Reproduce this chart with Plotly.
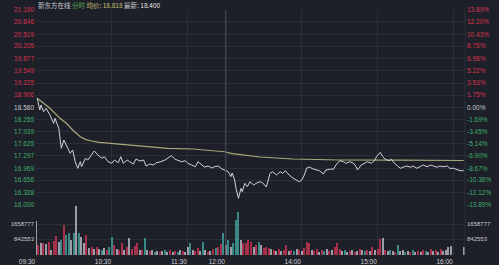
import plotly.graph_objects as go
import pandas as pd

DAY = "2020-03-20"

# ---- intraday price ----
price_times = ["09:31","09:33","09:34","09:36","09:38","09:41","09:44","09:45","09:48","09:50",
"09:52","09:54","09:57","09:59","10:01","10:03","10:05","10:06","10:09","10:11",
"10:14","10:16","10:19","10:22","10:24","10:27","10:30","10:32","10:35","10:37",
"10:39","10:42","10:44","10:47","10:49","10:52","10:55","10:57","11:00","11:03",
"11:05","11:08","11:12","11:14","11:17","11:20","11:22","11:25","11:28","11:30",
"11:33","11:36","11:38","11:41","11:43","11:46","11:49","11:51","11:54","11:57",
"11:59","13:02","13:04","13:05","13:07","13:08","13:10","13:12","13:13","13:15",
"13:17","13:19","13:22","13:24","13:27","13:29","13:32","13:33","13:35","13:37",
"13:40","13:43","13:45","13:47","13:50","13:53","13:56","13:58","14:00","14:02",
"14:04","14:06","14:09","14:12","14:14","14:17","14:19","14:23","14:25","14:27",
"14:30","14:33","14:35","14:38","14:41","14:43","14:44","14:47","14:50","14:52",
"14:55","14:58","14:59","15:02","15:04","15:06","15:09","15:11","15:13","15:16",
"15:18","15:21","15:23","15:26","15:28","15:31","15:34","15:36","15:39","15:42",
"15:44","15:47","15:49","15:52","15:55","15:57","16:00","16:03","16:05","16:08"]
price_values = [18.823,18.514,18.646,18.469,18.559,18.382,18.162,18.294,18.030,17.500,
17.720,17.588,17.368,17.455,17.146,16.971,17.146,17.013,17.236,17.191,
17.323,17.429,17.323,17.236,17.278,17.146,17.103,17.191,17.119,17.278,
17.103,17.191,17.146,17.085,17.217,17.164,17.191,17.032,17.085,17.058,
17.119,17.138,17.191,17.244,17.305,17.209,17.191,17.146,17.172,17.103,
17.058,17.013,17.146,17.058,17.005,17.032,16.979,17.013,17.032,16.953,
16.926,16.881,16.749,16.847,16.661,16.442,16.177,16.442,16.352,16.574,
16.484,16.616,16.529,16.574,16.616,16.590,16.476,16.616,16.839,16.881,
16.794,16.881,16.839,16.908,16.794,16.714,16.661,16.616,16.661,16.794,
16.979,17.005,16.953,16.926,16.908,16.820,16.926,16.953,16.944,17.058,
17.172,17.146,17.103,17.146,17.103,17.013,16.926,17.058,17.103,17.146,
17.103,17.191,17.278,17.394,17.278,17.209,17.172,17.209,17.111,17.032,
16.971,17.013,17.032,16.998,17.032,16.971,17.013,17.058,17.013,17.058,
17.032,16.998,17.032,17.013,17.032,16.971,16.971,16.926,16.908,16.908]

# ---- average price line ----
avg_times = ["09:31","09:36","09:41","09:49","09:54","09:59","10:05","10:09","10:13","10:20",
"10:34","10:47","11:00","11:14","11:34","11:59","13:05","13:15","13:27","13:53",
"14:30","15:17","16:08"]
avg_values = [18.823,18.691,18.559,18.294,18.162,17.984,17.807,17.738,17.701,17.659,
17.622,17.588,17.543,17.500,17.482,17.410,17.360,17.310,17.270,17.217,
17.191,17.185,17.178]

# ---- volume, 2-minute bins (thousand shares) and direction codes ----
vol_k = [1819,535,642,642,589,696,268,749,1017,696,
803,1605,1070,1177,803,1177,2600,1177,963,642,
1070,375,428,321,428,321,268,375,268,428,
963,535,321,268,642,268,428,910,321,482,
642,268,268,910,268,214,268,161,214,161,
214,268,161,268,161,214,161,268,214,161,
428,642,268,214,375,214,696,268,161,214,
321,375,428,589,1177,535,803,428,642,1873,
2301,803,642,642,803,696,428,535,696,535,
375,428,375,321,268,214,321,214,268,535,
214,268,214,321,268,214,375,696,642,268,
214,321,161,268,214,321,214,268,428,642,
321,214,268,161,214,268,161,214,321,268,
214,268,214,428,268,321,856,910,268,214,
268,214,161,535,214,268,161,214,161,268,
161,214,161,268,214,161,321,214,268,161,
321,214,268,428,482,0,0,0,0,428]
vol_dir = ("wrwrwrwrrw" "grggwgwgww" "rwrwrwgwrg" "grwrrwrwrr" "rwrgwrwgwr"
           "wgwrwrgwrw" "wgwrrwgwrw" "rgrrgwgwgg" "gwrrrrwrgw" "rrrwrwrwrr"
           "wrgwrwrrrw" "rrwrgwrwrr" "rwgwrwrwrw" "grwrwrrwrw" "gwrgwwgwrg"
           "wrwrgwrwrw" "rwwwwwwwww")

price_ticks = [21.160,20.846,20.519,20.205,19.877,19.549,19.225,18.906,18.580,
               18.255,17.939,17.625,17.297,16.969,16.656,16.328,16.000]
price_labels = ["21.160","20.846","20.519","20.205","19.877","19.549","19.225","18.906","18.580",
                "18.255","17.939","17.625","17.297","16.969","16.656","16.328","16.000"]
pct_labels = ["13.89%","12.20%","10.43%","8.75%","6.98%","5.22%","3.53%","1.75%","0.00%",
              "-1.69%","-3.45%","-5.14%","-6.90%","-8.67%","-10.36%","-12.12%","-13.89%"]
prev_close = 18.580
vol_ticks = [842553, 1658777]
vol_labels = ["842553", "1658777"]
time_ticks = ["09:30","10:30","11:30","13:00","14:00","15:00","16:00"]
time_labels = ["09:30","10:30","11:30","12:00","14:00","15:00","16:00"]

# ---- styles ----
BG = "#1d2028"
GRID = "#2a2e37"
RED = "#d8344f"
GREEN = "#3fae6d"
NEUTRAL = "#c9c9cf"
BAR_COL = {"r": "#a8304b", "g": "#3a8986", "w": "#9d9da8"}
NUM_FONT = "Liberation Sans, Arial, sans-serif"

def ts(hm):
    return pd.Timestamp(f"{DAY} {hm}")

price_x = [ts(t) for t in price_times]
avg_x = [ts(t) for t in avg_times]
vol_x = list(pd.date_range(ts("09:30"), ts("11:58"), freq="2min")) + \
        list(pd.date_range(ts("13:00"), ts("16:08"), freq="2min"))
vol = [v * 1000 for v in vol_k]
bar_colors = [BAR_COL[c] for c in vol_dir]

def colored(labels, ticks):
    out = []
    for lab, v in zip(labels, ticks):
        c = RED if v > prev_close + 1e-9 else (GREEN if v < prev_close - 1e-9 else NEUTRAL)
        out.append(f'<span style="color:{c}">{lab}</span>')
    return out

fig = go.Figure()
fig.add_trace(go.Bar(x=vol_x, y=vol, marker_color=bar_colors, marker_line_width=0,
                     width=62000, xaxis="x", yaxis="y3", showlegend=False, hoverinfo="skip"))
fig.add_trace(go.Bar(x=[vol_x[0]], y=[0], xaxis="x", yaxis="y4", showlegend=False,
                     hoverinfo="skip", marker_color="rgba(0,0,0,0)"))
fig.add_trace(go.Scatter(x=avg_x, y=avg_values, mode="lines", xaxis="x", yaxis="y",
                         line=dict(color="#aaa87c", width=1.2), showlegend=False))
fig.add_trace(go.Scatter(x=price_x, y=price_values, mode="lines", xaxis="x", yaxis="y",
                         line=dict(color="#d2d2da", width=1), showlegend=False))
fig.add_trace(go.Scatter(x=[price_x[0]], y=[price_values[0]], mode="markers", xaxis="x", yaxis="y2",
                         marker=dict(opacity=0), showlegend=False, hoverinfo="skip"))

split = 50 / 245
tickfont = dict(family=NUM_FONT, size=6.5, color=NEUTRAL)
volfont = dict(family=NUM_FONT, size=6, color=NEUTRAL)

fig.update_layout(
    template="none",
    width=499, height=265,
    margin=dict(l=36, r=34, t=10, b=10, autoexpand=False),
    paper_bgcolor=BG, plot_bgcolor=BG,
    bargap=0,
    xaxis=dict(type="date", range=[ts("09:30"), ts("16:09")],
               rangebreaks=[dict(bounds=[12, 13], pattern="hour")],
               tickvals=[ts(t) for t in time_ticks], ticktext=time_labels,
               tickfont=dict(family=NUM_FONT, size=6.5, color="#d2d2d8"),
               ticks="", ticklabelshift=-9, ticklabelstandoff=1, automargin=False,
               showgrid=True, gridcolor=GRID, gridwidth=1, zeroline=False,
               showline=False, anchor="y3", fixedrange=True),
    yaxis=dict(domain=[split, 1], range=[16.0, 21.16], tickvals=price_ticks,
               ticktext=colored(price_labels, price_ticks), tickfont=tickfont,
               ticks="", ticklabelstandoff=1, showgrid=True, gridcolor=GRID, automargin=False,
               zeroline=False, showline=False, anchor="x", fixedrange=True),
    yaxis2=dict(overlaying="y", side="right", range=[16.0, 21.16], tickvals=price_ticks,
                ticktext=colored(pct_labels, price_ticks), tickfont=tickfont, automargin=False,
                ticks="", ticklabelstandoff=1, showgrid=False, zeroline=False,
                anchor="x", fixedrange=True),
    yaxis3=dict(domain=[0, split], range=[0, 2675447], tickvals=vol_ticks, ticktext=vol_labels,
                tickfont=volfont, ticks="", ticklabelstandoff=1, showgrid=True, gridcolor=GRID,
                automargin=False, zeroline=False, showline=False, anchor="x", fixedrange=True),
    yaxis4=dict(overlaying="y3", side="right", range=[0, 2675447], tickvals=vol_ticks,
                ticktext=vol_labels, tickfont=volfont, ticks="", ticklabelstandoff=1,
                automargin=False, showgrid=False, zeroline=False, anchor="x", fixedrange=True),
    shapes=[
        dict(type="line", xref="x", yref="paper", x0=ts("13:00"), x1=ts("13:00"), y0=0, y1=1,
             line=dict(color="#4a4e59", width=1)),
        dict(type="line", xref="paper", yref="paper", x0=1, x1=1, y0=0, y1=1,
             line=dict(color=GRID, width=1)),
    ],
    annotations=[dict(
        xref="paper", yref="paper", x=0, y=1 + 5 / 245, xanchor="left", yanchor="middle",
        showarrow=False,
        font=dict(family="Noto Sans CJK SC, Liberation Sans, sans-serif", size=6.5, color="#c8c8ce"),
        text=('新东方在线 <span style="color:#5fae55">分时</span> '
              '<span style="color:#c8c276">均价: 18.818</span> '
              '最新: <span style="color:#e6e6ea">18.400</span>'))],
)

fig.write_html("out.html")
